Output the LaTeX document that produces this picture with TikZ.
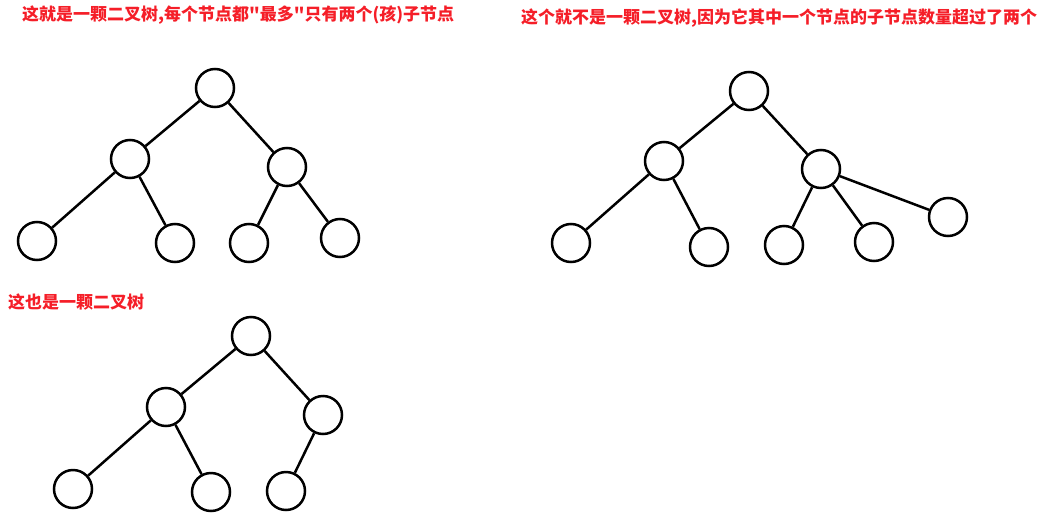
\documentclass[tikz,border=0pt]{standalone}
\usepackage{fontspec}
\newfontfamily\cjk{Noto Sans CJK SC}
\usetikzlibrary{positioning}
\definecolor{titlered}{RGB}{245,30,40}

\begin{document}
\begin{tikzpicture}[x=1pt, y=-1pt,
    leaf/.style={circle, draw, line width=2.5pt, minimum size=38pt, inner sep=0pt},
    edge/.style={line width=2.5pt},
    title/.style={anchor=west, inner sep=0pt, text=titlered, font=\cjk\bfseries\fontsize{17pt}{20pt}\selectfont}]

    \useasboundingbox (0, 0) rectangle (1038, 522);

    % Titles
    \node at (22, 15) [title] (t1) {这就是一颗二叉树,每个节点都"最多"只有两个(孩)子节点};
    \node at (521, 18) [title] (t2) {这个就不是一颗二叉树,因为它其中一个节点的子节点数量超过了两个};
    \node at (8, 302) [title] (t3) {这也是一颗二叉树};

    % Tree 1
    \node at (215, 88) [leaf] (a) {};
    \node at (130, 159) [leaf] (al) {};
    \node at (287, 167) [leaf] (ar) {};
    \node at (37, 241) [leaf] (all) {};
    \node at (175, 243) [leaf] (alr) {};
    \node at (249, 243) [leaf] (arl) {};
    \node at (340, 238) [leaf] (arr) {};
    \draw[edge] (a) -- (al);
    \draw[edge] (a) -- (ar);
    \draw[edge] (al) -- (all);
    \draw[edge] (al) -- (alr);
    \draw[edge] (ar) -- (arl);
    \draw[edge] (ar) -- (arr);

    % Tree 2
    \node at (749, 91) [leaf] (b) {};
    \node at (664, 161) [leaf] (bl) {};
    \node at (821, 169) [leaf] (br) {};
    \node at (571, 243) [leaf] (bll) {};
    \node at (709, 247) [leaf] (blr) {};
    \node at (784, 245) [leaf] (brl) {};
    \node at (874, 242) [leaf] (brm) {};
    \node at (948, 217) [leaf] (brr) {};
    \draw[edge] (b) -- (bl);
    \draw[edge] (b) -- (br);
    \draw[edge] (bl) -- (bll);
    \draw[edge] (bl) -- (blr);
    \draw[edge] (br) -- (brl);
    \draw[edge] (br) -- (brm);
    \draw[edge] (br) -- (brr);

    % Tree 3
    \node at (251, 336) [leaf] (c) {};
    \node at (166, 407) [leaf] (cl) {};
    \node at (323, 415) [leaf] (cr) {};
    \node at (73, 489) [leaf] (cll) {};
    \node at (211, 492) [leaf] (clr) {};
    \node at (286, 491) [leaf] (crl) {};
    \draw[edge] (c) -- (cl);
    \draw[edge] (c) -- (cr);
    \draw[edge] (cl) -- (cll);
    \draw[edge] (cl) -- (clr);
    \draw[edge] (cr) -- (crl);
\end{tikzpicture}
\end{document}
